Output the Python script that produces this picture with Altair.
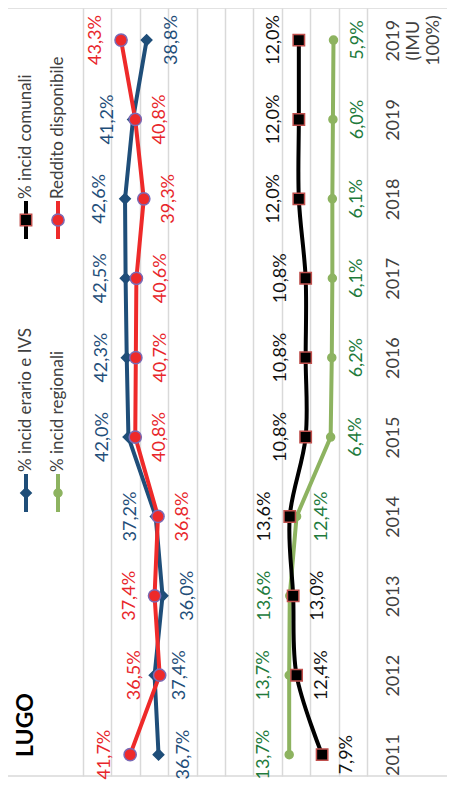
import altair as alt
import pandas as pd

# ---------------- data ----------------
categories = ["2011", "2012", "2013", "2014", "2015", "2016", "2017", "2018", "2019", "2019 (IMU 100%)"]
series_names = ["% incid erario e IVS", "% incid regionali", "% incid comunali", "Reddito disponibile"]

erario = [36.7, 37.4, 36.0, 37.2, 42.0, 42.3, 42.5, 42.6, 41.2, 38.8]
regionali = [13.7, 13.7, 13.6, 12.4, 6.4, 6.2, 6.1, 6.1, 6.0, 5.9]
comunali = [7.9, 12.4, 13.0, 13.6, 10.8, 10.8, 10.8, 12.0, 12.0, 12.0]
reddito = [41.7, 36.5, 37.4, 36.8, 40.8, 40.7, 40.6, 39.3, 40.8, 43.3]

# label placement: "a" = above the point in the original chart, "b" = below
label_sides = {
    "% incid erario e IVS": ["b", "b", "b", "a", "a", "a", "a", "a", "a", "b"],
    "% incid regionali":    ["a", "a", "a", "b", "b", "b", "b", "b", "b", "b"],
    "% incid comunali":     ["b", "b", "b", "a", "a", "a", "a", "a", "a", "a"],
    "Reddito disponibile":  ["a", "a", "a", "b", "b", "b", "b", "b", "b", "a"],
}

title_text = "LUGO"

# ---------------- styles ----------------
FONT = "Lato"
line_colors = ["#1F4E79", "#8DB360", "#000000", "#EE2A2A"]
label_colors = ["#1F4E79", "#217A3C", "#111111", "#E8262B"]
marker_fill = ["#1F4E79", "#8DB360", "#000000", "#EE2A2A"]
marker_stroke = ["#1F4E79", "#8DB360", "#C0504D", "#7B6AB5"]
marker_shape = ["diamond", "circle", "square", "circle"]
marker_size = [110, 64, 130, 150]
interp = ["linear", "linear", "catmull-rom", "linear"]

W, H = 284, 768
PAD = {"left": 75, "top": 0, "right": 80, "bottom": 8}

rows = []
for name, vals in zip(series_names, [erario, regionali, comunali, reddito]):
    for i, (cat, v) in enumerate(zip(categories, vals)):
        rows.append(dict(series=name, idx=i, cat=cat, value=v,
                         label=f"{v:.1f}%".replace(".", ","),
                         side=label_sides[name][i]))
df = pd.DataFrame(rows)

x_enc = alt.X("value:Q",
              scale=alt.Scale(domain=[0, 50], reverse=True, nice=False, zero=False),
              axis=alt.Axis(values=list(range(0, 51, 5)), grid=True, labels=False,
                            ticks=False, domain=False, title=None,
                            gridColor="#D9D9D9", gridWidth=1.5))
label_expr = "split(" + str(categories) + "[datum.value], ' ')"
y_enc = alt.Y("idx:Q",
              scale=alt.Scale(domain=[-0.269, 9.404], nice=False, zero=False),
              axis=alt.Axis(orient="right", values=list(range(len(categories))),
                            labelExpr=label_expr, labelAngle=270, labelAlign="center",
                            labelBaseline="top", labelPadding=17, tickSize=0,
                            ticks=False, domain=False, grid=False, title=None,
                            labelFont=FONT, labelFontSize=18, labelColor="#404040",
                            labelLineHeight=20, labelOverlap=False, labelBound=False,
                            labelFlush=False))

base = alt.Chart(df)
layers = []

# border rules (top / bottom of chart area)
border = alt.Chart(pd.DataFrame({"k": [0]}))
layers.append(border.mark_rule(color="#D9D9D9", strokeWidth=1.5).encode(
    x=alt.value(-75), x2=alt.value(364), y=alt.value(0)))
layers.append(border.mark_rule(color="#D9D9D9", strokeWidth=1.5).encode(
    x=alt.value(-75), x2=alt.value(364), y=alt.value(H)))

for k, name in enumerate(series_names):
    sub = base.transform_filter(alt.datum.series == name)
    layers.append(sub.mark_line(color=line_colors[k], strokeWidth=4,
                                interpolate=interp[k]).encode(
        x=x_enc, y=y_enc, order="idx:Q"))

for k, name in enumerate(series_names):
    sub = base.transform_filter(alt.datum.series == name)
    layers.append(sub.mark_point(shape=marker_shape[k], filled=True, fill=marker_fill[k],
                                 stroke=marker_stroke[k], strokeWidth=1.5,
                                 size=marker_size[k], opacity=1).encode(x=x_enc, y=y_enc))

for k, name in enumerate(series_names):
    for side, off in (("a", -25), ("b", 25)):
        sub = base.transform_filter((alt.datum.series == name) & (alt.datum.side == side))
        layers.append(sub.mark_text(angle=270, align="center", baseline="middle", dy=off,
                                    font=FONT, fontSize=18, color=label_colors[k]).encode(
            x=x_enc, y=y_enc, text="label:N"))

# legend (drawn manually, rotated like the chart)
leg_rows = []
for k, name in enumerate(series_names):
    a, b = k % 2, k // 2
    lx = -57 + 32 * a
    ly = 485 - 273 * b
    leg_rows.append(dict(series=name, lx=lx, ly=ly, ly1=ly - 19, ly2=ly + 19, ty=ly - 21))
leg = pd.DataFrame(leg_rows)
for k, name in enumerate(series_names):
    sub = alt.Chart(leg).transform_filter(alt.datum.series == name)
    layers.append(sub.mark_rule(color=line_colors[k], strokeWidth=4).encode(
        x=alt.X("lx:Q", scale=None), y=alt.Y("ly1:Q", scale=None), y2="ly2:Q"))
    layers.append(sub.mark_point(shape=marker_shape[k], filled=True, fill=marker_fill[k],
                                 stroke=marker_stroke[k], strokeWidth=1.5,
                                 size=marker_size[k], opacity=1).encode(
        x=alt.X("lx:Q", scale=None), y=alt.Y("ly:Q", scale=None)))
    layers.append(sub.mark_text(angle=270, align="left", baseline="middle", font=FONT,
                                fontSize=17, color="#404040").encode(
        x=alt.X("lx:Q", scale=None), y=alt.Y("ty:Q", scale=None), text="series:N"))

title = alt.Chart(pd.DataFrame({"t": [title_text]})).mark_text(
    angle=270, align="center", baseline="middle", font=FONT, fontSize=23,
    fontWeight="bold", color="#000000").encode(
    x=alt.value(-57.5), y=alt.value(717), text="t:N")
layers.append(title)

chart = alt.layer(*layers).properties(
    width=W, height=H, padding=PAD,
    autosize=alt.AutoSizeParams(type="none"),
    background="white",
).configure_view(stroke=None)

chart.save("out.html", embed_options={"renderer": "svg", "actions": False})
